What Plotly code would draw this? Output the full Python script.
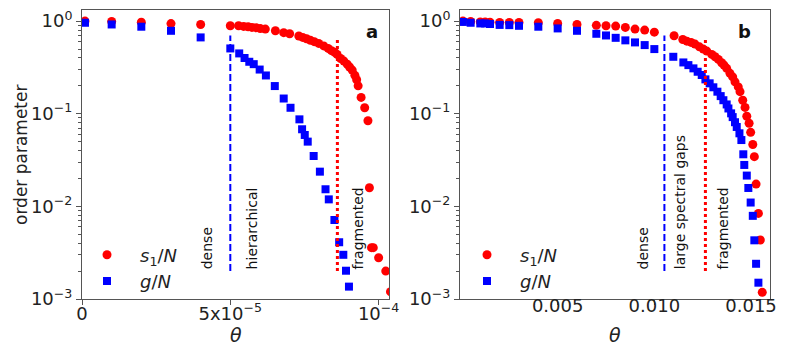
import plotly.graph_objects as go
from plotly.subplots import make_subplots

# panel a: theta values and order parameters
theta_a_s1 = [1e-6, 1e-5, 2e-5, 3e-5, 4e-5, 5.0e-5, 5.28e-5, 5.45e-5, 5.6e-5, 5.73e-5,
              5.87e-5, 6.01e-5, 6.18e-5, 6.52e-5, 6.8e-5, 7.0e-5, 7.31e-5, 7.44e-5, 7.57e-5,
              7.7e-5, 7.83e-5, 7.98e-5, 8.15e-5, 8.3e-5, 8.41e-5, 8.52e-5, 8.6e-5, 8.72e-5,
              8.83e-5, 8.94e-5, 9.02e-5, 9.11e-5, 9.2e-5, 9.26e-5, 9.31e-5, 9.41e-5, 9.53e-5,
              9.64e-5, 9.69e-5, 9.76e-5, 9.82e-5, 1.0e-4, 1.024e-4, 1.04e-4]
s1_a = [1.0, 0.99, 0.975, 0.94, 0.92, 0.89, 0.89, 0.877, 0.87, 0.855,
        0.85, 0.83, 0.82, 0.786, 0.75, 0.73, 0.69, 0.667, 0.645,
        0.62, 0.60, 0.575, 0.54, 0.507, 0.48, 0.46, 0.437, 0.395,
        0.37, 0.343, 0.32, 0.296, 0.26, 0.233, 0.2, 0.15, 0.116,
        0.084, 0.0159, 0.00358, 0.00358, 0.00279, 0.002, 0.0012]

theta_a_g = [1e-6, 1e-5, 2e-5, 3e-5, 4e-5, 5.0e-5, 5.3e-5, 5.48e-5, 5.64e-5, 5.79e-5,
             5.99e-5, 6.2e-5, 6.5e-5, 6.8e-5, 7.03e-5, 7.33e-5, 7.42e-5, 7.51e-5, 7.61e-5,
             7.81e-5, 8.02e-5, 8.21e-5, 8.32e-5, 8.51e-5, 8.67e-5, 8.81e-5, 8.9e-5, 9.0e-5]
g_a = [0.96, 0.92, 0.87, 0.786, 0.667, 0.507, 0.448, 0.40, 0.364, 0.343,
       0.30, 0.259, 0.199, 0.146, 0.116, 0.087, 0.068, 0.059, 0.050,
       0.035, 0.0237, 0.0153, 0.0119, 0.00713, 0.0041, 0.0030, 0.00202, 0.00136]

# panel b
theta_b_s1 = [0.0001, 0.0005, 0.001, 0.00125, 0.0015, 0.002, 0.0025, 0.003, 0.004, 0.005,
              0.006, 0.007, 0.0075, 0.008, 0.0085, 0.009, 0.0095, 0.010,
              0.01102, 0.01147, 0.01168, 0.0119, 0.0121, 0.01233, 0.01253, 0.01271,
              0.01297, 0.01314, 0.01331, 0.01348, 0.0136, 0.01374, 0.01391, 0.01405,
              0.01417, 0.01434, 0.01443, 0.01457, 0.01469, 0.01478, 0.0149, 0.01498,
              0.01509, 0.01517, 0.01526, 0.01538, 0.01548, 0.01558]
s1_b = [1.0, 0.99, 0.98, 0.98, 0.975, 0.967, 0.967, 0.967, 0.96, 0.944,
        0.92, 0.90, 0.89, 0.883, 0.855, 0.82, 0.80, 0.76,
        0.695, 0.634, 0.608, 0.589, 0.565, 0.528, 0.499, 0.475,
        0.437, 0.412, 0.386, 0.355, 0.335, 0.309, 0.273, 0.25,
        0.221, 0.195, 0.173, 0.14, 0.117, 0.094, 0.079, 0.063,
        0.0465, 0.0344, 0.0174, 0.0084, 0.00433, 0.00118]

theta_b_g = [0.0001, 0.0005, 0.001, 0.00125, 0.0015, 0.002, 0.0025, 0.003, 0.004, 0.005,
             0.006, 0.007, 0.0075, 0.008, 0.0085, 0.009, 0.0095, 0.010,
             0.01098, 0.0115, 0.01176, 0.01202, 0.01224, 0.01245, 0.01264, 0.01286,
             0.01305, 0.01326, 0.01343, 0.01357, 0.01374, 0.01383, 0.01397, 0.01405,
             0.01417, 0.01426, 0.0144, 0.0145, 0.0146, 0.01465, 0.01478, 0.01486,
             0.01498, 0.01509, 0.01517, 0.01526, 0.01538]
g_b = [0.98, 0.96, 0.944, 0.944, 0.93, 0.91, 0.905, 0.89, 0.87, 0.834,
       0.786, 0.73, 0.70, 0.66, 0.62, 0.589, 0.551, 0.499,
       0.412, 0.358, 0.335, 0.309, 0.284, 0.262, 0.235, 0.213,
       0.193, 0.173, 0.155, 0.14, 0.126, 0.114, 0.101, 0.092,
       0.081, 0.072, 0.0615, 0.052, 0.0365, 0.028, 0.0215, 0.0158,
       0.011, 0.0079, 0.0043, 0.0024, 0.0015]

# regime boundaries
bound_a = [5.0e-5, 8.61e-5]
bound_b = [0.01052, 0.01264]
line_top = [0.7, 0.65]
line_bottom = 0.002

labels_a = ["dense", "hierarchical", "fragmented"]
labels_a_x = [4.22e-5, 5.74e-5, 9.32e-5]
labels_b = ["dense", "large spectral gaps", "fragmented"]
labels_b_x = [0.00943, 0.01133, 0.01357]

FONT = "DejaVu Sans"
RED = "#ff0000"
BLUE = "#0000ff"
AX = "#555555"

# the page body has an 8px margin, so the figure is a bit smaller than the window
W, H = 781, 351


def px(x):
    return (x - 8) / W


def py(y):
    return (359 - y) / H


fig = make_subplots(rows=1, cols=2)

panels = [
    (1, theta_a_s1, s1_a, theta_a_g, g_a, bound_a, "legend"),
    (2, theta_b_s1, s1_b, theta_b_g, g_b, bound_b, "legend2"),
]
for col, ts, s, tg, g, bounds, leg in panels:
    fig.add_trace(go.Scatter(x=ts, y=s, mode="markers", name="<i>s</i><sub>1</sub>/<i>N</i>",
                             marker=dict(symbol="circle", size=9, color=RED),
                             legend=leg), row=1, col=col)
    fig.add_trace(go.Scatter(x=tg, y=g, mode="markers", name="<i>g</i>/<i>N</i>",
                             marker=dict(symbol="square", size=8, color=BLUE),
                             legend=leg), row=1, col=col)
    fig.add_trace(go.Scatter(x=[bounds[0], bounds[0]], y=[line_bottom, line_top[0]], mode="lines",
                             line=dict(color=BLUE, width=2, dash="7px,3px"),
                             showlegend=False, hoverinfo="skip"), row=1, col=col)
    fig.add_trace(go.Scatter(x=[bounds[1], bounds[1]], y=[line_bottom, line_top[1]], mode="lines",
                             line=dict(color=RED, width=3, dash="3px,3px"),
                             showlegend=False, hoverinfo="skip"), row=1, col=col)

y_dom = [py(299), py(10)]

major = [1e-3, 1e-2, 1e-1, 1]
major_txt = ["10<sup>−3</sup>", "10<sup>−2</sup>", "10<sup>−1</sup>", "10<sup>0</sup>"]
minor_vals = [m * 10 ** e for e in (-3, -2, -1) for m in range(2, 10)]

axis_common = dict(showgrid=False, zeroline=False, showline=True, linecolor=AX, linewidth=1,
                   mirror=True, ticks="outside", ticklen=5, tickcolor=AX, automargin=False,
                   ticklabeloverflow="allow",
                   tickfont=dict(family=FONT, size=18, color="#222"))

yaxis_style = dict(axis_common, type="log", range=[-3, 0.12], tickvals=major, ticktext=major_txt,
                   minor=dict(tickvals=minor_vals, ticks="outside", ticklen=3, tickcolor=AX),
                   domain=y_dom)

legend_style = dict(yanchor="middle", xanchor="left", bgcolor="rgba(0,0,0,0)",
                    font=dict(family=FONT, size=18), itemwidth=56, tracegroupgap=0)

fig.update_layout(
    width=W, height=H,
    margin=dict(l=0, r=0, t=0, b=0),
    plot_bgcolor="white", paper_bgcolor="white",
    font=dict(family=FONT, color="#222"),
    xaxis=dict(axis_common, domain=[px(82), px(389)], range=[0, 1.035e-4],
               tickvals=[0, 5e-5, 1e-4], ticktext=["0", "5x10<sup>−5</sup>", "10<sup>−4</sup>"],
               ticklabelstandoff=-7),
    xaxis2=dict(axis_common, domain=[px(460), px(770)], range=[-0.00005, 0.01598],
                tickvals=[0.005, 0.010, 0.015], ticktext=["0.005", "0.010", "0.015"],
                ticklabelstandoff=-15),
    yaxis=dict(yaxis_style),
    yaxis2=dict(yaxis_style),
    legend=dict(legend_style, x=px(74), y=py(268)),
    legend2=dict(legend_style, x=px(454), y=py(268)),
    showlegend=True,
)

# axis titles
fig.add_annotation(x=px(21), y=py(155), xref="paper", yref="paper", text="order parameter",
                   textangle=-90, showarrow=False, xanchor="center", yanchor="middle",
                   font=dict(family=FONT, size=17, color="#222"))
for cx in (236, 615):
    fig.add_annotation(x=px(cx), y=py(335), xref="paper", yref="paper", text="<i>θ</i>",
                       showarrow=False, xanchor="center", yanchor="middle",
                       font=dict(family=FONT, size=19, color="#222"))

# regime labels, rotated, bottom aligned at the line bottoms
for names, xs, xref in [(labels_a, labels_a_x, "x"), (labels_b, labels_b_x, "x2")]:
    for name, xv in zip(names, xs):
        fig.add_annotation(x=xv, y=-2.699, xref=xref, yref="y" if xref == "x" else "y2",
                           text=name, textangle=-90, showarrow=False,
                           xanchor="center", yanchor="bottom",
                           font=dict(family=FONT, size=14, color="#111"))

# panel letters
fig.add_annotation(x=px(372), y=py(31), xref="paper", yref="paper", text="<b>a</b>",
                   showarrow=False, xanchor="center", yanchor="middle",
                   font=dict(family=FONT, size=18, color="#111"))
fig.add_annotation(x=px(744), y=py(31), xref="paper", yref="paper", text="<b>b</b>",
                   showarrow=False, xanchor="center", yanchor="middle",
                   font=dict(family=FONT, size=18, color="#111"))

fig.write_html("out.html")
